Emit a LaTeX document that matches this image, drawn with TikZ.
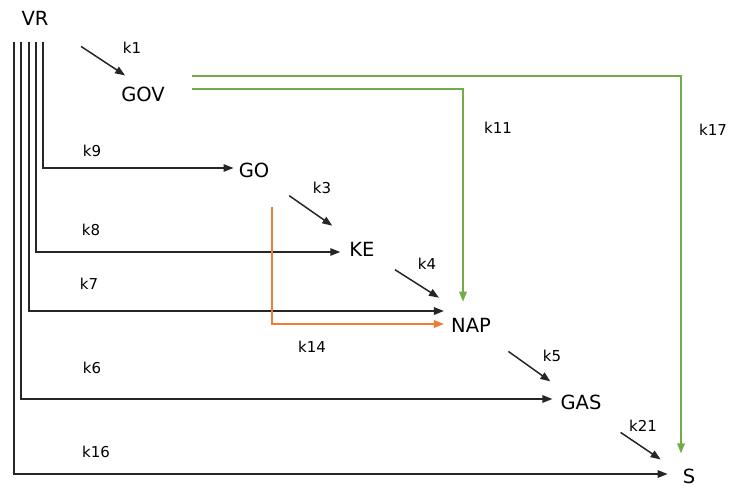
\documentclass[tikz,border=0pt]{standalone}
\usepackage{fontspec}
\setmainfont{DejaVu Sans}
\usetikzlibrary{arrows.meta,calc}

\definecolor{gvgreen}{HTML}{70AD47}
\definecolor{goorange}{HTML}{ED7D31}

\begin{document}
\begin{tikzpicture}[
    x=1pt, y=-1pt,
    >={Triangle[length=10pt,width=7.5pt]},
    spec/.style={font=\fontsize{19.5}{19.5}\selectfont, inner sep=2pt},
    rate/.style={font=\fontsize{15}{15}\selectfont, inner sep=0pt},
    flow/.style={->, line width=1.5pt, black!85},
    gflow/.style={->, line width=1.5pt, draw=gvgreen},
    oflow/.style={->, line width=1.5pt, draw=goorange}
]
\useasboundingbox (0,0) rectangle (730,487);

% ---- species ----
\node[spec] (VR)  at (35,18)   {VR};
\node[spec] (GOV) at (143,94)  {GOV};
\node[spec] (GO)  at (254,170) {GO};
\node[spec] (KE)  at (362,249) {KE};
\node[spec] (NAP) at (471,325) {NAP};
\node[spec] (GAS) at (581,402) {GAS};
\node[spec] (S)   at (689,476) {S};

% ---- VR feeds every product straight from the left bus ----
\draw[flow] ([shift={(8,15)}]VR.south)   |- ([shift={(-3,-2)}]GO.west);
\draw[flow] ([shift={(1,15)}]VR.south)   |- ([shift={(-7,3)}]KE.west);
\draw[flow] ([shift={(-6,15)}]VR.south)  |- ([shift={(-5,-14)}]NAP.west);
\draw[flow] ([shift={(-14,15)}]VR.south) |- ([shift={(-6,-3)}]GAS.west);
\draw[flow] ([shift={(-21,15)}]VR.south) |- ([shift={(-13,-2)}]S.west);

\node[rate] (k9)  at (92,151) {k9};
\node[rate] (k8)  at (91,230) {k8};
\node[rate] (k7)  at (89,284) {k7};
\node[rate] (k6)  at (92,368) {k6};
\node[rate] (k16) at (96,452) {k16};

% ---- cascade VR -> GOV, GO -> KE -> NAP -> GAS -> S ----
\draw[flow] ([shift={(-38,-38)}]GOV.north west) -- ([shift={(6,-9)}]GOV.north west);
\draw[flow] ([shift={(-58,-44)}]KE.north west)  -- ([shift={(-15,-14)}]KE.north west);
\draw[flow] ([shift={(-54,-46)}]NAP.north west) -- ([shift={(-10,-18)}]NAP.north west);
\draw[flow] ([shift={(-50,-41)}]GAS.north west) -- ([shift={(-8,-11)}]GAS.north west);
\draw[flow] ([shift={(-60,-34)}]S.north west)   -- ([shift={(-20,-7)}]S.north west);

\node[rate] (k1)  at (132,48)  {k1};
\node[rate] (k3)  at (322,188) {k3};
\node[rate] (k4)  at (427,264) {k4};
\node[rate] (k5)  at (552,356) {k5};
\node[rate] (k21) at (643,426) {k21};

% ---- GOV side routes (green) and GO -> NAP (orange) ----
\draw[gflow] ([shift={(25,-18)}]GOV.east) -| ([shift={(-8,-13)}]S.north);
\draw[gflow] ([shift={(25,-5)}]GOV.east)  -| ([shift={(-8,-14)}]NAP.north);
\draw[oflow] ([shift={(18,27)}]GO.south)  |- ([shift={(-5,-1)}]NAP.west);

\node[rate] (k11) at (498,128) {k11};
\node[rate] (k17) at (713,130) {k17};
\node[rate] (k14) at (312,347) {k14};

\end{tikzpicture}
\end{document}
